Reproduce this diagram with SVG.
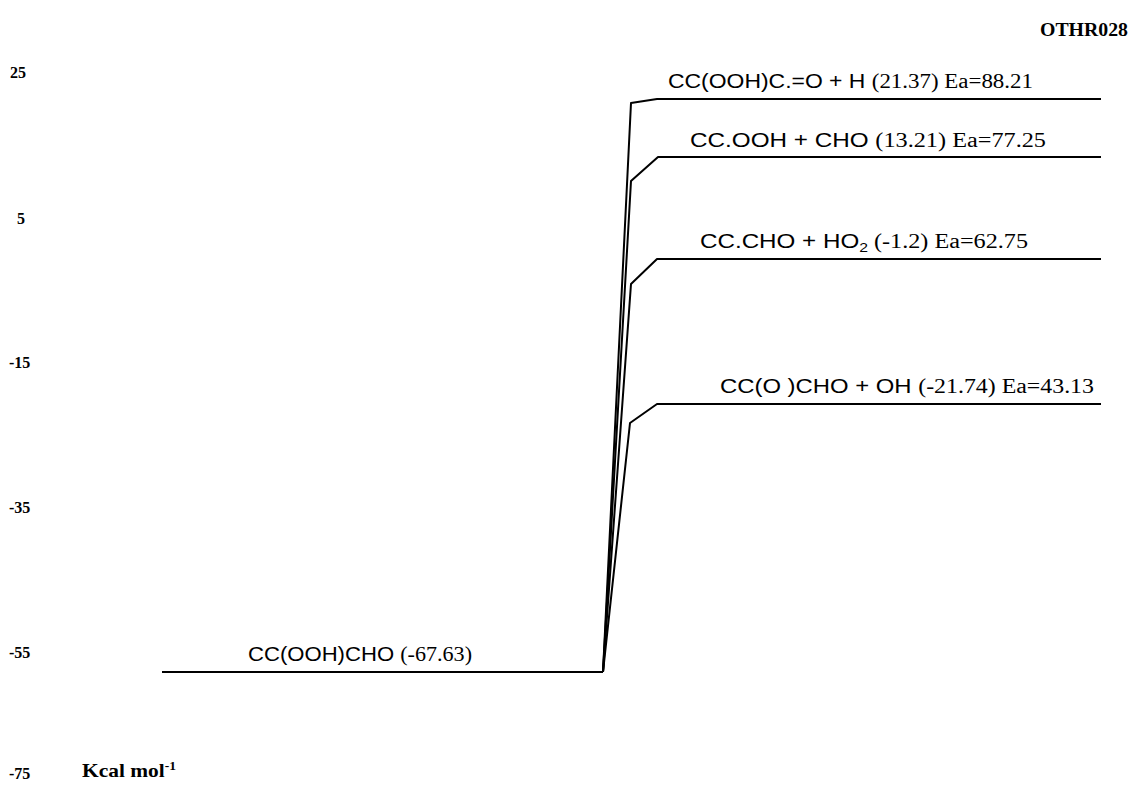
<svg xmlns="http://www.w3.org/2000/svg" width="1134" height="786" viewBox="0 0 1134 786">
<style>
.bg{fill:#fff}
.lvl{fill:none;stroke:#000;stroke-width:2;stroke-linejoin:round}
.ax{font-family:"Liberation Serif",serif;font-weight:bold;font-size:16px;fill:#000}
.lab{font-family:"Liberation Sans",sans-serif;font-size:20px;fill:#000}
.num{font-family:"Liberation Serif",serif;font-size:20px}
.title{font-family:"Liberation Serif",serif;font-weight:bold;font-size:18px;fill:#000}
</style>
<rect class="bg" x="0" y="0" width="1134" height="786"/>
<text class="title" x="1040" y="36" textLength="88" lengthAdjust="spacingAndGlyphs">OTHR028</text>
<g id="axis">
<text class="ax" x="10" y="78">25</text>
<text class="ax" x="17" y="224">5</text>
<text class="ax" x="9" y="368">-15</text>
<text class="ax" x="9" y="513">-35</text>
<text class="ax" x="9" y="658">-55</text>
<text class="ax" x="9" y="779">-75</text>
<text x="82" y="777" textLength="94" lengthAdjust="spacingAndGlyphs" style="font-family:'Liberation Serif',serif;font-size:19px;font-weight:bold">Kcal mol<tspan dy="-7" font-size="12">-1</tspan></text>
</g>
<g id="connectors">
<polyline class="lvl" points="603,672 631,103 657,99 1101,99"/>
<polyline class="lvl" points="603,672 631,181 658,157 1101,157"/>
<polyline class="lvl" points="603,672 631,284 657,259 1101,259"/>
<polyline class="lvl" points="603,672 630,423 657,404 1101,404"/>
</g>
<g id="reactant">
<line class="lvl" x1="162" y1="672" x2="603" y2="672"/>
<text class="lab" x="248" y="661" textLength="224" lengthAdjust="spacingAndGlyphs">CC(OOH)CHO <tspan class="num">(-67.63)</tspan></text>
</g>
<g id="p1">
<text class="lab" x="668" y="88" textLength="365" lengthAdjust="spacingAndGlyphs">CC(OOH)C.=O + H <tspan class="num">(21.37)  Ea=88.21</tspan></text>
</g>
<g id="p2">
<text class="lab" x="690" y="147" textLength="356" lengthAdjust="spacingAndGlyphs">CC.OOH + CHO <tspan class="num">(13.21)  Ea=77.25</tspan></text>
</g>
<g id="p3">
<text class="lab" x="700" y="248" textLength="328" lengthAdjust="spacingAndGlyphs">CC.CHO + HO<tspan dy="4" font-size="13">2</tspan><tspan class="num" dy="-4">  (-1.2)  Ea=62.75</tspan></text>
</g>
<g id="p4">
<text class="lab" x="720" y="393" textLength="374" lengthAdjust="spacingAndGlyphs">CC(O )CHO + OH  <tspan class="num">(-21.74)  Ea=43.13</tspan></text>
</g>
</svg>
